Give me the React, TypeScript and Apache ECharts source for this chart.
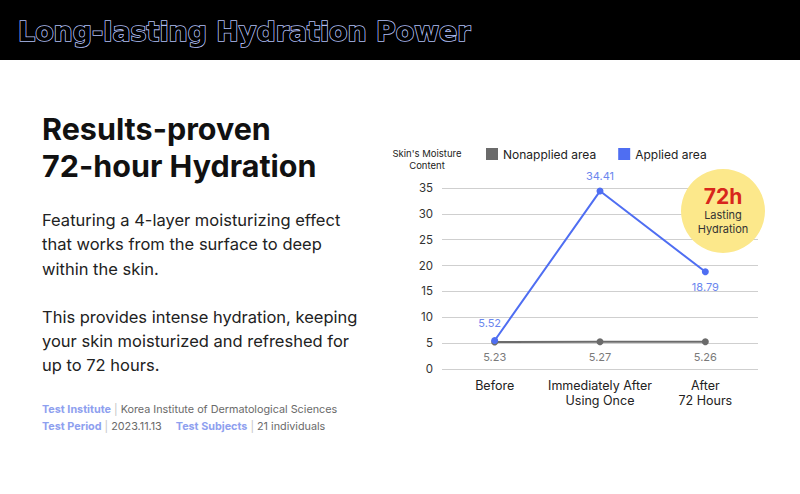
import React, { useEffect, useRef } from "react";
import * as echarts from "echarts";

const categories = ["Before", "Immediately After\nUsing Once", "After\n72 Hours"];
const nonapplied = [5.23, 5.27, 5.26];
const applied = [5.52, 34.41, 18.79];
const appliedLabelPos = ["top", "top", "bottom"];
const yTicks = { min: 0, max: 35, interval: 5 };

const BLUE = "#4f6ef2";
const BLUE_LABEL = "#6b86ee";
const GRAY = "#6b6b6b";

export default function App() {
  const ref = useRef<HTMLDivElement>(null);
  useEffect(() => {
    const chart = echarts.init(ref.current!, null, { renderer: "svg" });
    const font = "Inter, 'Noto Sans', sans-serif";
    chart.setOption({
      animation: false,
      backgroundColor: "#ffffff",
      textStyle: { fontFamily: font },
      grid: { left: 442, right: 42, top: 188, bottom: 125 },
      legend: {
        left: 486,
        top: 148,
        padding: 0,
        itemWidth: 12,
        itemHeight: 12,
        itemGap: 22,
        icon: "rect",
        textStyle: { fontSize: 12, color: "#222", fontFamily: font },
        data: ["Nonapplied area", "Applied area"],
      },
      xAxis: {
        type: "category",
        data: categories,
        boundaryGap: true,
        axisLine: { show: false },
        axisTick: { show: false },
        axisLabel: { color: "#222", fontSize: 12.5, margin: 9, lineHeight: 15, interval: 0, fontFamily: font },
      },
      yAxis: {
        type: "value",
        min: yTicks.min,
        max: yTicks.max,
        interval: yTicks.interval,
        axisLine: { show: false },
        axisTick: { show: false },
        axisLabel: { color: "#333", fontSize: 11.5, margin: 9, fontFamily: font },
        splitLine: { lineStyle: { color: "#cfcfcf", width: 1 } },
      },
      series: [
        {
          name: "Nonapplied area",
          type: "line",
          data: nonapplied,
          color: GRAY,
          symbol: "circle",
          symbolSize: 7,
          z: 3,
          lineStyle: { color: GRAY, width: 2 },
          itemStyle: { color: GRAY },
          label: {
            show: true,
            position: "bottom",
            distance: 6,
            color: "#7a7a7a",
            fontSize: 11,
            fontFamily: font,
            formatter: (p: any) => p.value.toFixed(2),
          },
        },
        {
          name: "Applied area",
          type: "line",
          data: applied.map((v, i) => ({
            value: v,
            label: {
              position: appliedLabelPos[i],
              offset: i === 0 ? [-5, -2] : [0, 0],
            },
          })),
          color: BLUE,
          symbol: "circle",
          symbolSize: 7,
          z: 4,
          lineStyle: { color: BLUE, width: 2 },
          itemStyle: { color: BLUE },
          label: {
            show: true,
            distance: 6,
            color: BLUE_LABEL,
            fontSize: 11,
            fontFamily: font,
            formatter: (p: any) => p.value.toFixed(2),
          },
        },
      ],
      graphic: [
        { type: "rect", shape: { x: 0, y: 0, width: 800, height: 60 }, style: { fill: "#000" }, z: 1 },
        {
          type: "text",
          x: 18,
          y: 31,
          z: 2,
          style: {
            text: "Long-lasting Hydration Power",
            fontFamily: "'DejaVu Sans', sans-serif",
            fontWeight: "bold",
            fontSize: 26.9,
            fill: "#000",
            stroke: "#b0bff6",
            lineWidth: 1.6,
            textVerticalAlign: "middle",
            verticalAlign: "middle",
          },
        },
        {
          type: "text",
          x: 42,
          y: 110,
          z: 2,
          style: {
            text: "Results-proven\n72-hour Hydration",
            fontFamily: font,
            fontWeight: "bold",
            fontSize: 30.5,
            lineHeight: 37,
            fill: "#111",
          },
        },
        {
          type: "text",
          x: 42,
          y: 208,
          z: 2,
          style: {
            text:
              "Featuring a 4-layer moisturizing effect\nthat works from the surface to deep\nwithin the skin.\n\nThis provides intense hydration, keeping\nyour skin moisturized and refreshed for\nup to 72 hours.",
            fontFamily: font,
            fontSize: 16.5,
            lineHeight: 24.2,
            fill: "#222",
          },
        },
        {
          type: "text",
          x: 42,
          y: 404,
          z: 2,
          style: {
            text: "{a|Test Institute}{s| | }{b|Korea Institute of Dermatological Sciences}",
            fontFamily: font,
            rich: {
              a: { fontSize: 10.8, fontWeight: "bold", fill: "#8ea0ef", fontFamily: font },
              s: { fontSize: 10.8, fill: "#c4c4c4", fontFamily: font },
              b: { fontSize: 10.8, fill: "#6a6a6a", fontFamily: font },
            },
          },
        },
        {
          type: "text",
          x: 42,
          y: 420,
          z: 2,
          style: {
            text: "{a|Test Period}{s| | }{b|2023.11.13}{g|}{a|Test Subjects}{s| | }{b|21 individuals}",
            fontFamily: font,
            rich: {
              a: { fontSize: 10.8, fontWeight: "bold", fill: "#8ea0ef", fontFamily: font },
              s: { fontSize: 10.8, fill: "#c4c4c4", fontFamily: font },
              b: { fontSize: 10.8, fill: "#6a6a6a", fontFamily: font },
              g: { width: 14 },
            },
          },
        },
        {
          type: "text",
          x: 427,
          y: 147,
          z: 2,
          style: {
            text: "Skin's Moisture\nContent",
            fontFamily: font,
            fontSize: 9.5,
            lineHeight: 12,
            fill: "#222",
            align: "center",
          },
        },
        {
          type: "circle",
          shape: { cx: 723, cy: 211, r: 42 },
          style: { fill: "#fce88b" },
          z: 1,
        },
        {
          type: "text",
          x: 723,
          y: 196,
          z: 2,
          style: {
            text: "72h",
            fontFamily: font,
            fontWeight: "bold",
            fontSize: 21,
            fill: "#d8261c",
            align: "center",
            verticalAlign: "middle",
          },
        },
        {
          type: "text",
          x: 723,
          y: 222,
          z: 2,
          style: {
            text: "Lasting\nHydration",
            fontFamily: font,
            fontSize: 11,
            lineHeight: 14,
            fill: "#333",
            align: "center",
            verticalAlign: "middle",
          },
        },
      ],
    });
    return () => chart.dispose();
  }, []);
  return <div ref={ref} style={{ position: "fixed", left: 0, top: 0, width: 800, height: 494 }} />;
}
